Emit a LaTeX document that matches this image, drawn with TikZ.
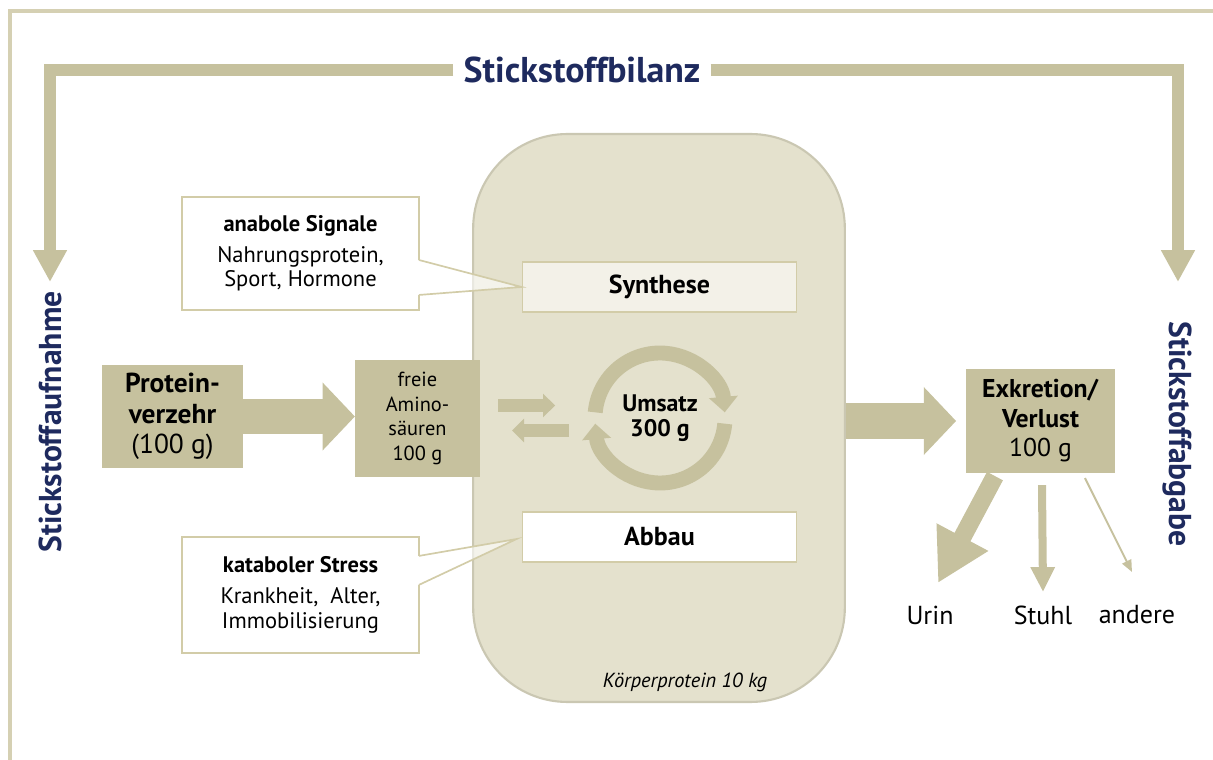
\documentclass[tikz,border=0pt]{standalone}
\usepackage{fontspec}
\setmainfont{PT Sans}
\usetikzlibrary{arrows.meta,positioning,calc}

\definecolor{khaki}{HTML}{C6C19E}
\definecolor{bodyfill}{HTML}{E4E1CD}
\definecolor{bodyline}{HTML}{CAC7B2}
\definecolor{synthfill}{HTML}{F3F1E8}
\definecolor{boxline}{HTML}{D2CCA8}
\definecolor{navy}{HTML}{1E2A5E}
\definecolor{frameline}{HTML}{D5D0B3}

\tikzset{
  bar/.style={draw=khaki, line width=8.5pt, line join=miter, -{Triangle[width=22.7pt,length=22.7pt]}},
  navytext/.style={text=navy, font=\bfseries\fontsize{22.5}{26}\selectfont},
  kbox/.style={fill=khaki, inner sep=0pt, align=center},
  stepbox/.style={draw=boxline, line width=1.2pt, inner sep=0pt, minimum width=194.9pt, minimum height=35.4pt, font=\bfseries\fontsize{18.5}{22}\selectfont},
  notebox/.style={fill=white, inner sep=0pt, minimum width=168pt, align=center, font=\fontsize{16}{17.7}\selectfont},
  calloutline/.style={draw=boxline, line width=1.2pt},
  bigarrow/.style={draw=khaki, line width=25pt, -{Triangle[width=47pt,length=23pt]}},
  smallarrow/.style={draw=khaki, line width=9.2pt, -{Triangle[width=16.3pt,length=8.5pt]}},
  ring/.style={draw=khaki, line width=10.6pt, -{Triangle[width=20pt,length=11pt]}},
  outlabel/.style={font=\fontsize{18.5}{22}\selectfont}
}

\begin{document}
\begin{tikzpicture}[x=0.025cm, y=-0.025cm]
  \useasboundingbox (0,0) rectangle (1213,760);

  % frame
  \draw[frameline, line width=2.2pt] (10,760) -- (10,11) -- (1213,11);

  % nitrogen balance bracket
  \node[navytext, font=\bfseries\fontsize{25.5}{30}\selectfont, inner xsep=7pt] (bilanz) at (582,70) {Stickstoffbilanz};
  \node[navytext, rotate=90] (aufnahme) at (50,422) {Stickstoffaufnahme};
  \node[navytext, rotate=-90] (abgabe) at (1177,434) {Stickstoffabgabe};
  \coordinate (in-tip) at (50,282);
  \coordinate (out-tip) at (1178,282);
  \draw[bar] (bilanz.west) -| (in-tip);
  \draw[bar] (bilanz.east) -| (out-tip);

  % body protein
  \node[fill=bodyfill, draw=bodyline, line width=1.5pt, rounded corners=67pt,
        minimum width=264.3pt, minimum height=403.9pt] (body) at (659,418) {};
  \node[font=\itshape\fontsize{14.5}{17}\selectfont] (koerper) at (685,682) {Körperprotein 10 kg};
  \node[stepbox, fill=synthfill] (synth) at (659.5,287) {Synthese};
  \node[stepbox, fill=white] (abbau) at (659.5,537) {Abbau};

  % turnover cycle
  \coordinate (turn) at (660,418);
  \draw[ring] (turn) ++(185:65) arc[start angle=185, end angle=355, radius=65];
  \draw[ring] (turn) ++(5:65) arc[start angle=5, end angle=175, radius=65];
  \node[align=center, font=\bfseries\fontsize{17}{18}\selectfont] (umsatz) at (turn) {Umsatz\\300 g};

  % intake side
  \node[kbox, minimum width=99.9pt, minimum height=73pt, font=\fontsize{19.5}{21.5}\selectfont] (protein) at (172.5,416.5)
    {\textbf{Protein-}\\\textbf{verzehr}\\(100 g)};
  \node[kbox, minimum width=88.6pt, minimum height=83pt, font=\fontsize{14.5}{17.7}\selectfont] (freie) at (417.5,418.5)
    {freie\\Amino-\\säuren\\100 g};
  \draw[bigarrow] (protein.east) -- (protein.east -| freie.west);
  \draw[smallarrow] ($(freie.east)+(18,-13)$) -- ($(freie.east)+(75,-13)$);
  \draw[smallarrow] ($(freie.east)+(89,12)$) -- ($(freie.east)+(32,12)$);

  % signals
  \node[notebox, minimum height=80pt] (anabole) at (300.5,253.5)
    {\textbf{anabole Signale}\\[4pt]Nahrungsprotein,\\Sport, Hormone};
  \coordinate (ana-a) at ($(anabole.north east)+(0,63)$);
  \coordinate (ana-b) at ($(anabole.north east)+(0,98)$);
  \draw[calloutline] (ana-a) -- (anabole.north east) -- (anabole.north west)
    -- (anabole.south west) -- (anabole.south east) -- (ana-b);
  \fill[white, fill opacity=.6] (ana-a) -- (synth.west) -- (ana-b) -- cycle;
  \draw[calloutline] (ana-a) -- (synth.west) -- (ana-b);

  \node[notebox, minimum height=82.2pt] (katabol) at (300.5,595)
    {\textbf{kataboler Stress}\\[4pt]Krankheit,\ \ Alter,\\Immobilisierung};
  \coordinate (kat-a) at ($(katabol.north east)+(0,19)$);
  \coordinate (kat-b) at ($(katabol.north east)+(0,48)$);
  \coordinate (kat-tip) at ($(abbau.west)+(-5,2)$);
  \draw[calloutline] (kat-a) -- (katabol.north east) -- (katabol.north west)
    -- (katabol.south west) -- (katabol.south east) -- (kat-b);
  \fill[white, fill opacity=.6] (kat-a) -- (kat-tip) -- (kat-b) -- cycle;
  \draw[calloutline] (kat-a) -- (kat-tip) -- (kat-b);

  % excretion side
  \node[kbox, minimum width=105.6pt, minimum height=73.7pt, font=\fontsize{18.3}{21}\selectfont] (exk) at (1040.5,421)
    {\textbf{Exkretion/}\\\textbf{Verlust}\\100 g};
  \draw[bigarrow, shorten >=7pt] (body.east |- exk.west) -- (exk.west);

  \node[outlabel] (urin) at (930,615) {Urin};
  \node[outlabel] (stuhl) at (1043,615) {Stuhl};
  \node[outlabel] (andere) at (1137,615) {andere};
  \draw[draw=khaki, line width=12.8pt, -{Triangle[width=39pt,length=37pt]}]
    ($(exk.south west)+(29,3)$) -- ($(urin)+(8,-32)$);
  \draw[draw=khaki, line width=5.7pt, -{Triangle[width=16.3pt,length=17.7pt]}]
    ($(exk.south)+(1.5,12)$) -- ($(stuhl)+(0,-23)$);
  \draw[draw=khaki, line width=1.4pt, -{Triangle[width=7pt,length=8.5pt]}]
    ($(exk.south)+(44.5,5)$) -- ($(andere)+(-5,-43)$);
\end{tikzpicture}
\end{document}
